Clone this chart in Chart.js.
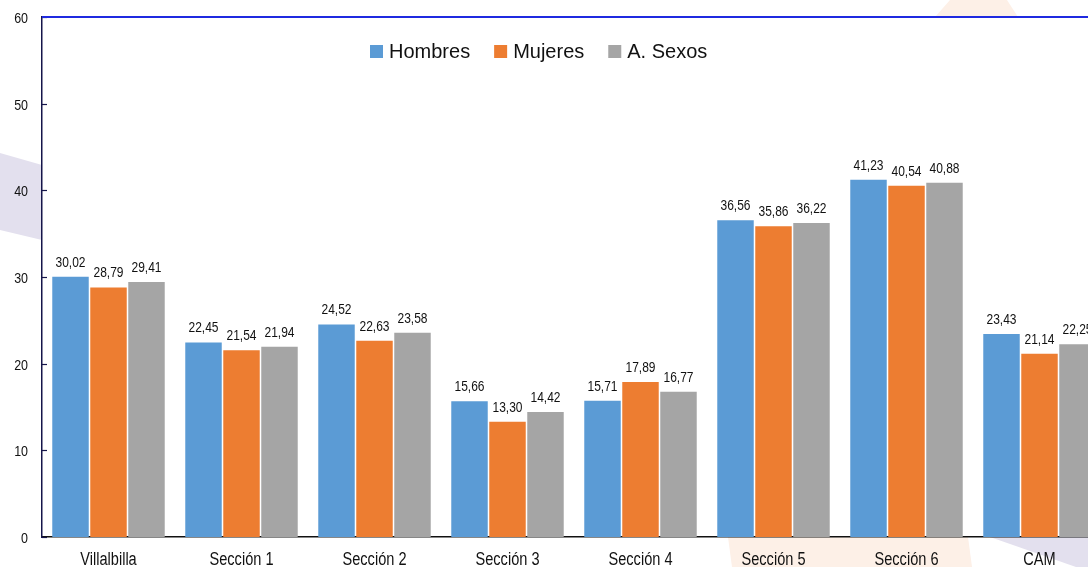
<!DOCTYPE html>
<html>
<head>
<meta charset="utf-8">
<script src="https://cdn.jsdelivr.net/npm/chart.js@4.4.1/dist/chart.umd.min.js"></script>
<style>
  html, body { margin: 0; padding: 0; background: #fff; overflow: hidden; }
  #wrap { position: relative; width: 1106px; height: 567px; }
</style>
</head>
<body>
<div id="wrap"><canvas id="chart" width="1106" height="567"></canvas></div>
<script>
// ---- datos ----
const categorias = ['Villalbilla', 'Sección 1', 'Sección 2', 'Sección 3', 'Sección 4', 'Sección 5', 'Sección 6', 'CAM'];
const hombres = [30.02, 22.45, 24.52, 15.66, 15.71, 36.56, 41.23, 23.43];
const mujeres = [28.79, 21.54, 22.63, 13.30, 17.89, 35.86, 40.54, 21.14];
const ambosSexos = [29.41, 21.94, 23.58, 14.42, 16.77, 36.22, 40.88, 22.25];
const series = ['Hombres', 'Mujeres', 'A. Sexos'];
const colores = ['#5b9bd5', '#ed7d31', '#a5a5a5'];
const ejeY = { min: 0, max: 60, paso: 10 };

const SANS = '"Liberation Sans", Arial, sans-serif';

const fmt = v => v.toFixed(2).replace('.', ',');

// texto estrechado horizontalmente (tipo Arial Narrow)
function texto(ctx, str, x, y, size, sx, align) {
  ctx.save();
  ctx.font = size + 'px ' + SANS;
  ctx.textAlign = align;
  ctx.textBaseline = 'alphabetic';
  ctx.translate(x, y);
  ctx.scale(sx, 1);
  ctx.fillText(str, 0, 0);
  ctx.restore();
}

// fondo decorativo + area blanca del grafico
const fondo = {
  id: 'fondo',
  beforeDraw(chart) {
    const { ctx, chartArea: a } = chart;
    const poly = (pts, color) => {
      ctx.beginPath();
      pts.forEach(([x, y], i) => i ? ctx.lineTo(x, y) : ctx.moveTo(x, y));
      ctx.closePath();
      ctx.fillStyle = color;
      ctx.fill();
    };
    ctx.save();
    poly([[0, 153], [a.left, 165], [a.left, 240], [0, 230]], '#e3e0ee');
    poly([[950, 0], [1007, 0], [1018, a.top], [935, a.top]], '#fdf0e7');
    poly([[728, a.bottom], [968, a.bottom], [972, 567], [732, 567]], '#fdf0e7');
    poly([[990, a.bottom], [1106, a.bottom], [1106, 567], [1076, 567]], '#e3e0ee');
    ctx.fillStyle = '#fff';
    ctx.fillRect(a.left, a.top, a.right - a.left, a.bottom - a.top);
    ctx.restore();
  }
};

// etiquetas de ejes, valores, marcas, borde superior y leyenda
const extras = {
  id: 'extras',
  afterDraw(chart) {
    const { ctx, chartArea: a, scales } = chart;
    ctx.save();
    ctx.fillStyle = '#111';

    // valores sobre las barras
    chart.data.datasets.forEach((ds, i) => {
      chart.getDatasetMeta(i).data.forEach((bar, j) => {
        texto(ctx, fmt(ds.data[j]), bar.x, bar.y - 10, 15, 0.8, 'center');
      });
    });

    // eje Y: marcas hacia dentro y etiquetas
    ctx.strokeStyle = '#15154a';
    ctx.lineWidth = 1.2;
    scales.y.ticks.forEach(t => {
      const y = Math.round(scales.y.getPixelForValue(t.value)) + 0.5;
      ctx.beginPath();
      ctx.moveTo(a.left, y);
      ctx.lineTo(a.left + 5, y);
      ctx.stroke();
      texto(ctx, String(t.value), a.left - 14, y + 5, 14.5, 0.86, 'right');
    });

    // eje X: categorias
    scales.x.ticks.forEach((t, i) => {
      texto(ctx, categorias[t.value], scales.x.getPixelForTick(i), a.bottom + 28, 18, 0.81, 'center');
    });

    // borde superior azul
    ctx.strokeStyle = '#1f2ae0';
    ctx.lineWidth = 2;
    ctx.beginPath();
    ctx.moveTo(a.left, a.top);
    ctx.lineTo(chart.width, a.top);
    ctx.stroke();

    // leyenda
    ctx.font = '20px ' + SANS;
    ctx.textAlign = 'left';
    ctx.textBaseline = 'middle';
    let x = 370;
    const yc = 51;
    chart.data.datasets.forEach(ds => {
      ctx.fillStyle = ds.backgroundColor;
      ctx.fillRect(x, yc - 6, 13, 13);
      ctx.fillStyle = '#111';
      ctx.fillText(ds.label, x + 19, yc + 1);
      x += 19 + ctx.measureText(ds.label).width + 24;
    });

    ctx.restore();
  }
};

const datos = [hombres, mujeres, ambosSexos];

new Chart(document.getElementById('chart'), {
  type: 'bar',
  data: {
    labels: categorias,
    datasets: series.map((s, i) => ({
      label: s,
      data: datos[i],
      backgroundColor: colores[i],
      categoryPercentage: 0.857,
      barPercentage: 0.96
    }))
  },
  options: {
    responsive: false,
    animation: false,
    layout: { padding: { top: 17, left: 0, right: 0, bottom: 0 } },
    plugins: { legend: { display: false }, tooltip: { enabled: false } },
    scales: {
      x: {
        grid: { display: false, drawTicks: false },
        border: { color: '#111', width: 1.5 },
        ticks: { display: false, autoSkip: false },
        afterFit: s => { s.height = 30; }
      },
      y: {
        min: ejeY.min, max: ejeY.max,
        grid: { display: false, drawTicks: false },
        border: { color: '#15154a', width: 1.5 },
        ticks: { display: false, stepSize: ejeY.paso },
        afterFit: s => { s.width = 42; }
      }
    }
  },
  plugins: [fondo, extras]
});
</script>
</body>
</html>
